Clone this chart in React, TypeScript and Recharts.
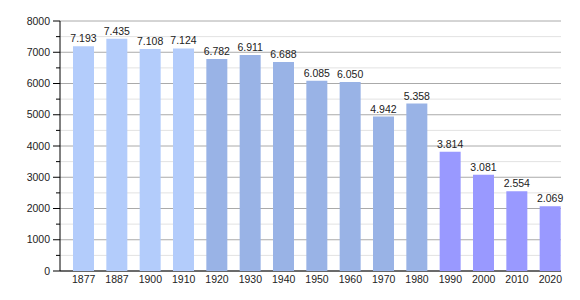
import { BarChart, Bar, XAxis, YAxis, CartesianGrid, Cell, LabelList } from 'recharts';

const YEARS = ['1877', '1887', '1900', '1910', '1920', '1930', '1940', '1950', '1960', '1970', '1980', '1990', '2000', '2010', '2020'];
const POPULATION = [7193, 7435, 7108, 7124, 6782, 6911, 6688, 6085, 6050, 4942, 5358, 3814, 3081, 2554, 2069];
const MAJOR_TICKS = [0, 1000, 2000, 3000, 4000, 5000, 6000, 7000, 8000];
const MINOR_TICKS = [500, 1500, 2500, 3500, 4500, 5500, 6500, 7500];
const ALL_TICKS = [...MAJOR_TICKS, ...MINOR_TICKS].sort((a, b) => a - b);

const FONT = '"Liberation Sans", Arial, sans-serif';

function barColor(year: string) {
  const y = Number(year);
  if (y < 1920) return '#b3ccfb';
  if (y < 1990) return '#99b3e6';
  return '#9999ff';
}

const data = YEARS.map((year, i) => ({ year, pop: POPULATION[i] }));

// thousands separator is a dot in the original
const fmt = (v: number) => {
  const s = String(v);
  return s.length > 3 ? s.slice(0, -3) + '.' + s.slice(-3) : s;
};

// grid lines stop a few px short of the last band, as in the source chart
const gridLine = (stroke: string) => (p: any) => (
  <line key={p.key ?? p.index} x1={p.x1} y1={p.y1} x2={p.x2 - 6} y2={p.y2} stroke={stroke} strokeWidth={1} />
);

function YTick({ x, y, payload }: any) {
  const major = payload.value % 1000 === 0;
  return (
    <g>
      <line x1={x - (major ? 7 : 4)} y1={y} x2={x} y2={y} stroke="#000" />
      {major && (
        <text x={x - 10} y={y} dy="0.355em" textAnchor="end" fontSize={10.5} fontFamily={FONT} fill="#222">
          {payload.value}
        </text>
      )}
    </g>
  );
}

export default function App() {
  return (
    <div style={{ position: 'absolute', left: 0, top: 0, width: 580, height: 300, background: '#fff' }}>
      <BarChart width={580} height={300} data={data} margin={{ top: 21, right: 13, bottom: 0, left: 0 }}>
        <CartesianGrid vertical={false} horizontalValues={MINOR_TICKS} horizontal={gridLine('#e2e2e2')} />
        <CartesianGrid vertical={false} horizontalValues={MAJOR_TICKS} horizontal={gridLine('#aaaaaa')} />
        <CartesianGrid vertical={false} horizontalValues={[0]} horizontal={gridLine('#000000')} />
        <XAxis
          dataKey="year"
          height={29}
          axisLine={false}
          tickLine={false}
          tickSize={0}
          tickMargin={5}
          interval={0}
          padding={{ left: 7, right: 0 }}
          tick={{ fontSize: 10.5, fontFamily: FONT, fill: '#222' }}
        />
        <YAxis
          type="number"
          domain={[0, 8000]}
          ticks={ALL_TICKS}
          interval={0}
          width={60}
          tickSize={0}
          tickMargin={0}
          tickLine={false}
          axisLine={{ stroke: '#000' }}
          tick={<YTick />}
        />
        <Bar dataKey="pop" barSize={21} isAnimationActive={false}>
          {data.map((d) => (
            <Cell key={d.year} fill={barColor(d.year)} />
          ))}
          <LabelList
            dataKey="pop"
            position="top"
            offset={4}
            formatter={(v: any) => fmt(Number(v))}
            style={{ fontSize: 10.5, fontFamily: FONT, fill: '#222' }}
          />
        </Bar>
      </BarChart>
    </div>
  );
}
